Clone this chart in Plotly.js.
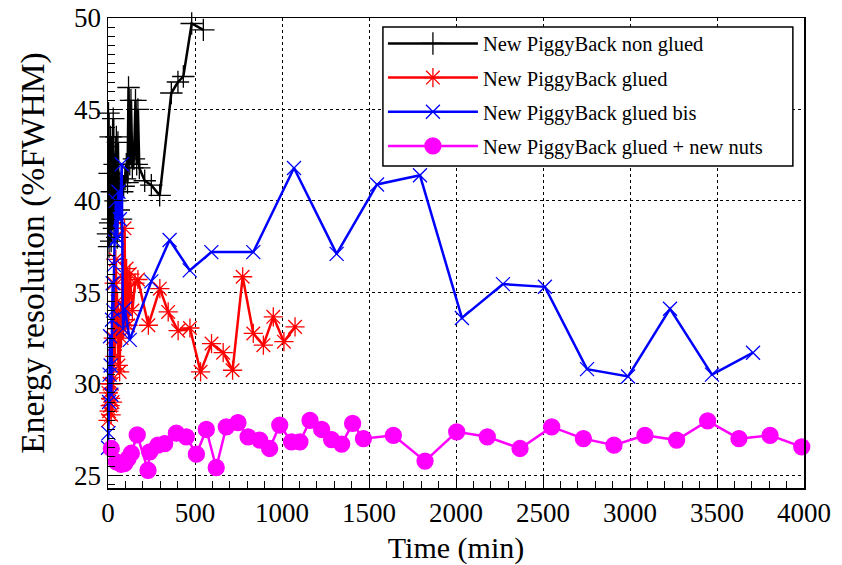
<!DOCTYPE html>
<html>
<head>
<meta charset="utf-8">
<script src="https://cdn.plot.ly/plotly-3.0.1.min.js"></script>
<style>html,body{margin:0;padding:0;background:#fff;}#chart{width:842px;height:565px;}</style>
</head>
<body>
<div id="chart"></div>
<script>
// Series names
const seriesNames = ["New PiggyBack non glued", "New PiggyBack glued", "New PiggyBack glued bis", "New PiggyBack glued + new nuts"];

// New PiggyBack non glued (black)
const nonGluedTime = [0, 3, 6, 9, 12, 15, 18, 22, 26, 30, 34, 38, 43, 48, 53, 57, 62, 68, 75, 82, 90, 98, 105, 112, 118, 125, 132, 140, 149, 158, 165, 172, 180, 211, 249, 297, 364, 402, 433, 481, 548];
const nonGluedRes  = [38.2, 44.8, 37.5, 41.5, 38.8, 43.5, 37.8, 40.5, 39.0, 44.5, 38.5, 42.0, 40.0, 43.5, 38.0, 43.2, 39.5, 41.0, 39.0, 40.5, 40.8, 41.2, 42.0, 41.0, 46.2, 42.0, 45.5, 41.8, 42.3, 45.5, 42.0, 45.0, 41.8, 41.1, 40.86, 40.3, 45.9, 46.5, 46.8, 49.7, 49.35];

// New PiggyBack glued (red)
const gluedTime = [0, 3, 6, 9, 12, 15, 18, 22, 26, 30, 35, 40, 45, 50, 55, 60, 67, 72, 78, 84, 90, 95, 101, 107, 115, 125, 140, 155, 172, 232, 298, 346, 403, 471, 532, 595, 662, 716, 774, 835, 893, 950, 1011, 1075];
const gluedRes  = [28.0, 29.5, 28.5, 30.0, 28.8, 29.2, 28.3, 30.0, 29.0, 32.5, 35.5, 31.5, 36.8, 33.0, 34.5, 31.0, 30.65, 34.0, 32.5, 35.8, 33.0, 38.5, 33.5, 36.3, 33.2, 36.0, 34.0, 35.5, 35.7, 33.2, 35.2, 33.93, 32.9, 33.05, 30.65, 32.2, 31.7, 30.74, 35.85, 32.75, 32.11, 33.66, 32.3, 33.11];

// New PiggyBack glued bis (blue)
const gluedBisTime = [0, 3, 6, 9, 12, 15, 19, 23, 27, 30, 34, 38, 45, 52, 60, 68, 79, 86, 96, 125, 249, 354, 470, 594, 835, 1069, 1314, 1546, 1793, 2034, 2270, 2511, 2753, 2989, 3230, 3471, 3707];
const gluedBisRes  = [26.5, 27.3, 29.0, 30.5, 32.6, 31.0, 29.4, 33.5, 35.5, 34.0, 36.5, 37.8, 40.0, 38.0, 40.5, 39.0, 42.0, 33.0, 34.1, 32.4, 35.6, 37.86, 36.2, 37.2, 37.2, 41.8, 37.1, 40.9, 41.4, 33.6, 35.45, 35.3, 30.8, 30.4, 34.1, 30.5, 31.7];

// New PiggyBack glued + new nuts (magenta)
const nutsTime = [19, 48, 75, 96, 115, 134, 168, 230, 240, 287, 326, 393, 450, 508, 565, 622, 680, 747, 805, 872, 929, 987, 1055, 1103, 1161, 1228, 1285, 1343, 1406, 1468, 1640, 1822, 2004, 2180, 2368, 2550, 2732, 2908, 3086, 3268, 3446, 3626, 3805, 3987];
const nutsRes  = [26.46, 25.73, 25.6, 25.64, 25.9, 26.2, 27.2, 25.27, 26.27, 26.64, 26.73, 27.3, 27.1, 26.15, 27.5, 25.42, 27.64, 27.88, 27.1, 26.92, 26.46, 27.74, 26.82, 26.82, 28.0, 27.5, 26.95, 26.7, 27.83, 27.0, 27.18, 25.77, 27.37, 27.1, 26.46, 27.64, 27.0, 26.64, 27.18, 26.92, 27.97, 27.0, 27.18, 26.55];

// Axis ticks
const xTickVals = [0, 500, 1000, 1500, 2000, 2500, 3000, 3500, 4000];
const yTickVals = [25, 30, 35, 40, 45, 50];

const serif = "Liberation Serif, Times New Roman, serif";

function mk(name, x, y, color, symbol, size, group) {
  return {
    type: "scatter", mode: "lines+markers", name: name, x: x, y: y,
    legendgroup: group,
    line: {color: color, width: 2.5},
    marker: {color: color, symbol: symbol, size: size, line: {color: color, width: 1.3}},
    cliponaxis: false
  };
}

const traces = [
  mk(seriesNames[0], nonGluedTime, nonGluedRes, "#000000", "cross-thin-open", 16, "a"),
  mk(seriesNames[1], gluedTime, gluedRes, "#ff0000", "asterisk-open", 16, "b"),
  mk(seriesNames[2], gluedBisTime, gluedBisRes, "#0000ff", "x-thin-open", 14, "c"),
  mk(seriesNames[3], nutsTime, nutsRes, "#ff00ff", "circle", 16, "d")
];

const layout = {
  width: 842, height: 565,
  margin: {l: 108, r: 38, t: 18, b: 77},
  paper_bgcolor: "#ffffff", plot_bgcolor: "#ffffff",
  font: {family: serif, color: "#000000", size: 22},
  showlegend: true,
  legend: {
    x: 0.395, y: 0.988, xanchor: "left", yanchor: "top",
    bgcolor: "rgba(0,0,0,0)", borderwidth: 0,
    font: {family: serif, size: 20.5, color: "#000000"},
    tracegroupgap: 4.5, itemwidth: 90
  },
  shapes: [{
    type: "rect", xref: "paper", yref: "paper",
    x0: 0.395, x1: 0.984, y0: 0.685, y1: 0.981,
    fillcolor: "#ffffff", line: {color: "#000000", width: 1.5}, layer: "above"
  }],
  xaxis: {
    range: [0, 4000], tickvals: xTickVals, ticktext: xTickVals.map(String),
    ticks: "inside", ticklen: 14, tickwidth: 1, tickcolor: "#000",
    minor: {dtick: 100, ticks: "inside", ticklen: 7, tickwidth: 1, tickcolor: "#000", showgrid: false},
    showgrid: true, gridcolor: "#000000", griddash: "dot", gridwidth: 1,
    showline: true, linecolor: "#000000", linewidth: 1.5, mirror: true,
    zeroline: false,
    tickfont: {family: serif, size: 27},
    title: {text: "Time (min)", font: {family: serif, size: 30}, standoff: 12}
  },
  yaxis: {
    range: [24.3, 50], tickvals: yTickVals, ticktext: yTickVals.map(String),
    ticks: "inside", ticklen: 14, tickwidth: 1, tickcolor: "#000",
    minor: {dtick: 0.5, ticks: "inside", ticklen: 7, tickwidth: 1, tickcolor: "#000", showgrid: false},
    showgrid: true, gridcolor: "#000000", griddash: "dot", gridwidth: 1,
    showline: true, linecolor: "#000000", linewidth: 1.5, mirror: true,
    zeroline: false,
    tickfont: {family: serif, size: 27},
    title: {text: "Energy resolution (%FWHM)", font: {family: serif, size: 33.5}, standoff: 19}
  }
};

Plotly.newPlot("chart", traces, layout, {displayModeBar: false, staticPlot: true});
</script>
</body>
</html>
